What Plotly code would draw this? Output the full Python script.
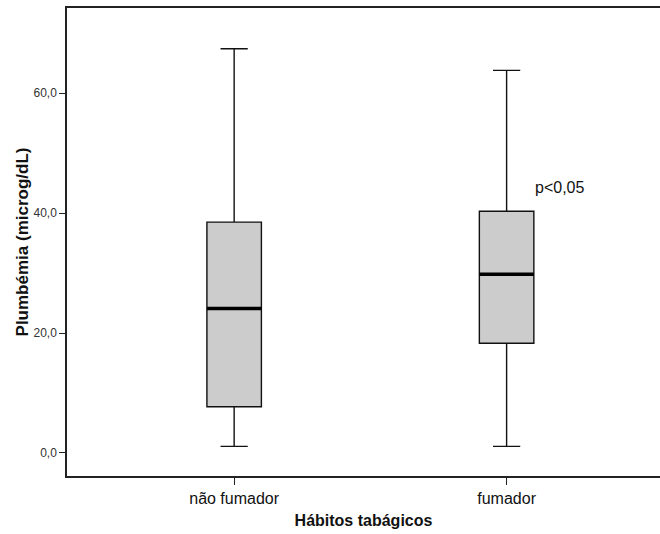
import plotly.graph_objects as go

# Blood lead (Plumbémia) by smoking habit: five-number summaries per group
categories = ["não fumador", "fumador"]
lower_whisker = [1.1, 1.1]
q1 = [7.7, 18.3]
median = [24.1, 29.8]
q3 = [38.5, 40.3]
upper_whisker = [67.4, 63.8]

y_ticks = [0, 20, 40, 60]
p_label = "p<0,05"
p_label_y = 44.2

FONT = "Liberation Sans, Arial, sans-serif"
BOX_W = 0.2

fig = go.Figure()

for i, cat in enumerate(categories):
    fig.add_trace(go.Box(
        x=[i],
        q1=[q1[i]], median=[median[i]], q3=[q3[i]],
        lowerfence=[lower_whisker[i]], upperfence=[upper_whisker[i]],
        name=cat,
        width=BOX_W,
        whiskerwidth=0.5,
        fillcolor="#cccccc",
        line=dict(color="#111111", width=1.4),
        boxpoints=False,
        hoverinfo="skip",
        showlegend=False,
    ))
    # heavier median bar drawn over the box
    fig.add_trace(go.Scatter(
        x=[i - BOX_W / 2, i + BOX_W / 2],
        y=[median[i], median[i]],
        mode="lines",
        line=dict(color="black", width=3.5),
        hoverinfo="skip",
        showlegend=False,
    ))

fig.add_annotation(
    x=1.097, y=p_label_y, xref="x", yref="y",
    text=p_label, showarrow=False, xanchor="left", yanchor="middle",
    font=dict(family=FONT, size=16, color="#111111"),
)

fig.update_layout(
    width=660, height=534,
    margin=dict(l=67, r=0, t=8, b=58),
    paper_bgcolor="white", plot_bgcolor="white",
    separators=",.",
    font=dict(family=FONT, color="#111111"),
)

fig.update_xaxes(
    range=[-0.6135, 1.563],
    tickvals=list(range(len(categories))), ticktext=categories,
    showgrid=False, zeroline=False,
    showline=True, mirror=True, linecolor="#222222", linewidth=1.5,
    ticks="outside", ticklen=7, tickcolor="#222222",
    tickfont=dict(family=FONT, size=16, color="#111111"),
    title=dict(text="<b>Hábitos tabágicos</b>", standoff=9,
               font=dict(family=FONT, size=16, color="#111111")),
)

fig.update_yaxes(
    range=[-3.84, 74.2],
    tickvals=y_ticks, tickformat=".1f",
    showgrid=False, zeroline=False,
    showline=True, mirror=False, linecolor="#222222", linewidth=1.5,
    ticks="outside", ticklen=6, tickcolor="#222222",
    ticklabelstandoff=0,
    tickfont=dict(family=FONT, size=12, color="#333333"),
    title=dict(text="<b>Plumbémia (microg/dL)</b>", standoff=1,
               font=dict(family=FONT, size=17, color="#111111")),
)

fig.write_html("out.html")
